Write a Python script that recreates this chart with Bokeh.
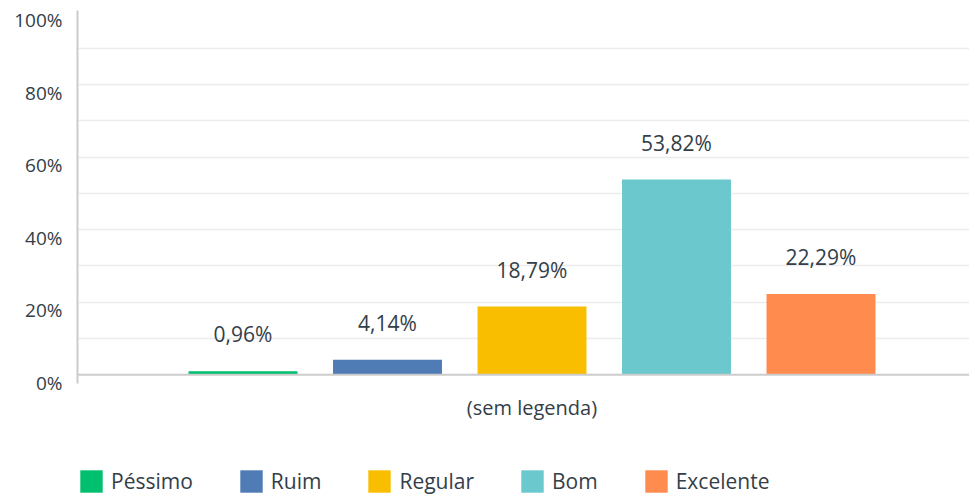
from bokeh.plotting import figure
from bokeh.layouts import column
from bokeh.models import (ColumnDataSource, Range1d, FixedTicker, Legend, LegendItem, Span)
from bokeh.core.properties import value
from bokeh.embed import file_html
from bokeh.resources import INLINE

categories = ["Péssimo", "Ruim", "Regular", "Bom", "Excelente"]
values = [0.96, 4.14, 18.79, 53.82, 22.29]
colors = ["#00BF6F", "#507CB6", "#F9BE00", "#6BC8CD", "#FF8B4F"]
group_label = "(sem legenda)"
y_ticks = [0, 20, 40, 60, 80, 100]
y_grid = [20, 40, 60, 80]
y_minor = [10, 30, 50, 70, 90]

FONT = "Open Sans"
TXT = "#333e48"
AXIS = "#cccccc"
GRID = "#ececec"

FRAME_W = 892
FRAME_H = 373
LEFT = 77
Y0, Y1 = -2.4, 100.41
px_per_unit = FRAME_H / (Y1 - Y0)
shift = 8 / px_per_unit  # tick labels sit a little below their grid line

xs = list(range(1, len(categories) + 1))
labels = [f"{v:.2f}".replace(".", ",") + "%" for v in values]
src = ColumnDataSource(dict(x=xs, top=values, color=colors, cat=categories, label=labels))

p = figure(frame_width=FRAME_W, frame_height=FRAME_H, output_backend="svg", toolbar_location=None,
           x_range=Range1d(-0.1453, 6.0277), y_range=Range1d(Y0, Y1),
           min_border_left=LEFT, min_border_right=0, min_border_top=10, min_border_bottom=60)
p.outline_line_color = None
p.extra_y_ranges = {"lab": Range1d(Y0 + shift, Y1 + shift)}

r = p.vbar(x="x", top="top", bottom=0, width=0.754, color="color", source=src, line_color=None)

p.text(x="x", y="top", text="label", source=src, text_align="center", text_baseline="middle",
       y_offset=-37, text_font=value(FONT), text_font_size="21px", text_color=TXT)

# y axis
yax = p.yaxis[0]
yax.y_range_name = "lab"
yax.ticker = FixedTicker(ticks=y_ticks)
yax.major_label_overrides = {t: f"{t}%" for t in y_ticks}
yax.major_label_text_font = FONT
yax.major_label_text_font_size = "19px"
yax.major_label_text_color = TXT
yax.major_label_standoff = 15
yax.major_tick_out = 0
yax.minor_tick_out = 0
yax.major_tick_line_color = None
yax.minor_tick_line_color = None
yax.axis_line_color = AXIS
yax.axis_line_width = 2

# baseline at 0
p.add_layout(Span(location=0, dimension="width", line_color=AXIS, line_width=2))

# x axis
xax = p.xaxis[0]
mid = sum(xs) / len(xs)
xax.ticker = FixedTicker(ticks=[mid])
xax.major_label_overrides = {mid: group_label}
xax.major_label_text_font = FONT
xax.major_label_text_font_size = "20px"
xax.major_label_text_color = TXT
xax.major_label_standoff = 10
xax.major_tick_out = 0
xax.minor_tick_out = 0
xax.major_tick_line_color = None
xax.minor_tick_line_color = None
xax.axis_line_color = None

# grid
p.xgrid.grid_line_color = None
p.ygrid.ticker = FixedTicker(ticks=y_grid, minor_ticks=y_minor)
p.ygrid.grid_line_color = GRID
p.ygrid.grid_line_width = 1.5
p.ygrid.minor_grid_line_color = GRID
p.ygrid.minor_grid_line_width = 1.5

# legend strip (separate small figure under the chart, frame aligned with the chart)
lg = figure(frame_width=FRAME_W, frame_height=57, output_backend="svg", toolbar_location=None,
            x_range=Range1d(100, 101), y_range=Range1d(100, 101),
            x_axis_location=None, y_axis_location=None,
            min_border_left=LEFT, min_border_right=0, min_border_top=0, min_border_bottom=0)
lg.outline_line_color = None
lg.grid.visible = False
lr = lg.vbar(x="x", top="top", bottom=0, width=0.754, color="color", source=src, line_color=None)

legend = Legend(items=[LegendItem(label=c, renderers=[lr], index=i) for i, c in enumerate(categories)],
                orientation="horizontal", location=(0, 5),
                glyph_width=28, glyph_height=28, label_standoff=6, spacing=44,
                padding=0, margin=0, border_line_color=None, background_fill_alpha=0,
                label_text_font=FONT, label_text_font_size="21px", label_text_color=TXT,
                label_height=28)
lg.add_layout(legend, "center")

layout = column(p, lg, spacing=0)
open("out.html", "w").write(file_html(layout, INLINE))
